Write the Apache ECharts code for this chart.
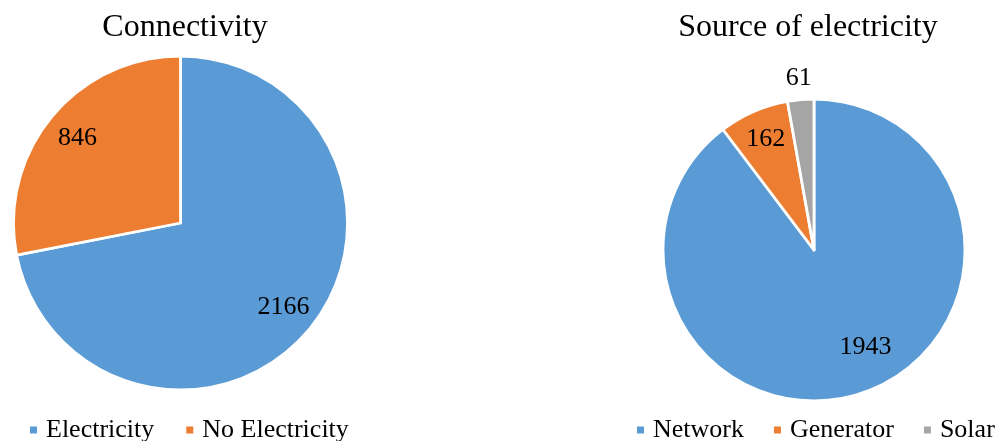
<!DOCTYPE html>
<html>
<head>
<meta charset="utf-8">
<title>Connectivity and source of electricity</title>
<script src="https://cdn.jsdelivr.net/npm/echarts@6/dist/echarts.min.js"></script>
<style>
  html, body { margin: 0; padding: 0; background: #fff; }
  #chart { width: 998px; height: 441px; }
</style>
</head>
<body>
<div id="chart"></div>
<script>
// Households by connectivity
const connNames = ['Electricity', 'No Electricity'];
const connValues = [2166, 846];
// Connected households by source of electricity
const srcNames = ['Network', 'Generator', 'Solar'];
const srcValues = [1943, 162, 61];

const palette = {
  'Electricity': '#5B9BD5', 'No Electricity': '#ED7D31',
  'Network': '#5B9BD5', 'Generator': '#ED7D31', 'Solar': '#A5A5A5'
};
const FONT = '"Liberation Serif", "Times New Roman", serif';

const toData = (names, values) => names.map((n, i) => ({
  name: n, value: values[i], itemStyle: { color: palette[n] }
}));

// Pie geometry
const leftPie = { center: [180.5, 223], r: 167 };
const rightPie = { center: [814, 250], r: 151 };

function mainPie(geom, names, values) {
  return {
    type: 'pie',
    center: geom.center,
    radius: [0, geom.r],
    startAngle: 90,
    clockwise: true,
    silent: true,
    label: { show: false },
    labelLine: { show: false },
    itemStyle: { borderColor: '#ffffff', borderWidth: 2.8 },
    emphasis: { disabled: true },
    data: toData(names, values)
  };
}

// Transparent ring that carries value labels at its mid radius
function labelRing(geom, names, values, inner, outer, shown, layout) {
  return {
    type: 'pie',
    center: geom.center,
    radius: [geom.r * inner, geom.r * outer],
    startAngle: 90,
    clockwise: true,
    silent: true,
    legendHoverLink: false,
    itemStyle: { color: 'rgba(0,0,0,0)', borderWidth: 0 },
    emphasis: { disabled: true },
    labelLine: { show: false },
    label: {
      show: true,
      position: 'inside',
      fontFamily: FONT,
      fontSize: 26,
      color: '#000',
      formatter: p => shown.indexOf(p.dataIndex) >= 0 ? String(p.value) : ''
    },
    labelLayout: layout,
    data: names.map((n, i) => ({ name: n, value: values[i] }))
  };
}

const chart = echarts.init(document.getElementById('chart'), null, { renderer: 'canvas' });

chart.setOption({
  backgroundColor: '#ffffff',
  animation: false,
  title: [
    { text: 'Connectivity', left: 180, top: 7, textAlign: 'center',
      textStyle: { fontFamily: FONT, fontSize: 32, fontWeight: 'normal', color: '#000' } },
    { text: 'Source of electricity', left: 803, top: 7, textAlign: 'center',
      textStyle: { fontFamily: FONT, fontSize: 32, fontWeight: 'normal', color: '#000' } }
  ],
  legend: [
    {
      data: connNames, left: 28, top: 417, padding: 0,
      icon: 'rect', itemWidth: 9, itemHeight: 9, itemGap: 30,
      selectedMode: false,
      textStyle: { fontFamily: FONT, fontSize: 26, color: '#000', padding: [0, 0, 0, 3] }
    },
    {
      data: srcNames, left: 635, top: 417, padding: 0,
      icon: 'rect', itemWidth: 9, itemHeight: 9, itemGap: 28,
      selectedMode: false,
      textStyle: { fontFamily: FONT, fontSize: 26, color: '#000', padding: [0, 0, 0, 3] }
    }
  ],
  series: [
    mainPie(leftPie, connNames, connValues),
    mainPie(rightPie, srcNames, srcValues),
    labelRing(leftPie, connNames, connValues, 0.56, 1.0, [0, 1]),
    labelRing(rightPie, srcNames, srcValues, 0.56, 1.0, [0, 1],
      p => p.dataIndex === 0 ? { dx: 13, dy: -17 } : {}),
    labelRing(rightPie, srcNames, srcValues, 0.95, 1.3, [2])
  ]
});
</script>
</body>
</html>
